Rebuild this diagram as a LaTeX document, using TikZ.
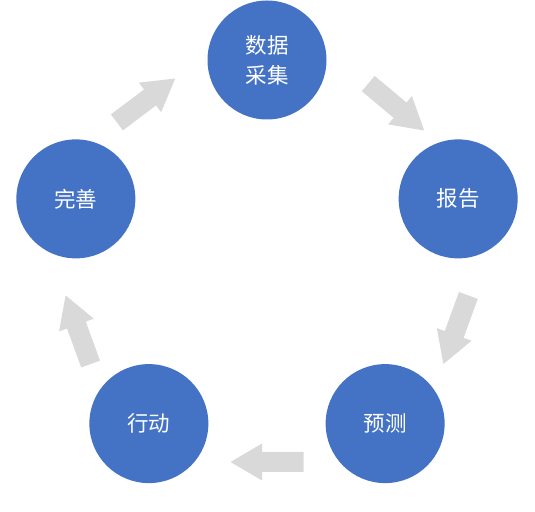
\documentclass[tikz,border=0pt]{standalone}
\usepackage{fontspec}
\newfontfamily\cjk{Noto Sans CJK SC}
\usetikzlibrary{calc}
\definecolor{cBlue}{HTML}{4472C4}
\definecolor{cGrey}{HTML}{D9D9D9}

\begin{document}
\begin{tikzpicture}[x=1pt, y=1pt,
  stage/.style={circle, fill=cBlue, minimum size=119pt, inner sep=0pt, align=center,
    text=white, font=\cjk\fontsize{21.5}{30}\selectfont},
  flow/.style={fill=cGrey}]
  \useasboundingbox (0,0) rectangle (535,511);
  \coordinate (hub) at (267,250);
  % five stages round the cycle
  \node[stage] (collect) at ($(hub)+(90:201)$) {数据\\采集};
  \node[stage] (report) at ($(hub)+(18:201)$) {报告};
  \node[stage] (predict) at ($(hub)+(-54:201)$) {预测};
  \node[stage] (act) at ($(hub)+(-126:201)$) {行动};
  \node[stage] (improve) at ($(hub)+(162:201)$) {完善};
  % block arrows, clockwise
  \foreach \a in {50,-20,-90,-160,127}
    \fill[flow, shift={($(hub)+(\a:201)$)}, rotate=\a-90]
      (-36.5,-10) -- (5,-10) -- (5,-18.5) -- (36.5,0) -- (5,18.5) -- (5,10) -- (-36.5,10) -- cycle;
\end{tikzpicture}
\end{document}
